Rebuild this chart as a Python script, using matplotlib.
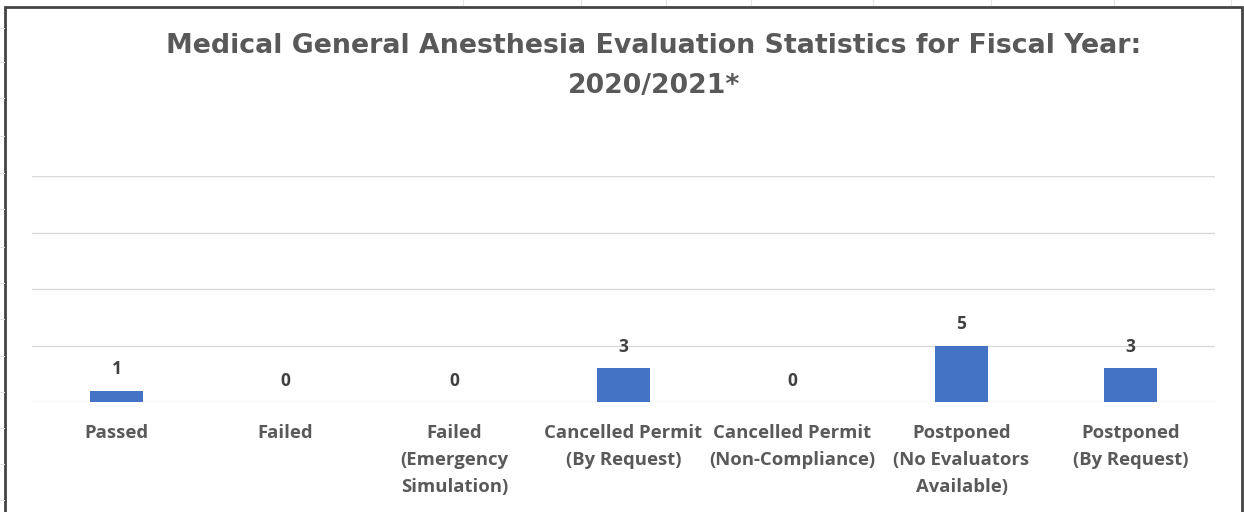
import matplotlib
matplotlib.use("Agg")
import matplotlib.pyplot as plt
from matplotlib.patches import Rectangle

categories = ["Passed", "Failed", "Failed\n(Emergency\nSimulation)", "Cancelled Permit\n(By Request)",
              "Cancelled Permit\n(Non-Compliance)", "Postponed\n(No Evaluators\nAvailable)", "Postponed\n(By Request)"]
values = [1, 0, 0, 3, 0, 5, 3]
title = "Medical General Anesthesia Evaluation Statistics for Fiscal Year:\n2020/2021*"

W, H = 1244, 512
fig = plt.figure(figsize=(W/100, H/100), dpi=100)
fig.patch.set_facecolor("white")

# faint spreadsheet marks outside chart
for yy in [28, 62, 98, 136, 173, 209, 247, 283, 319, 356, 392, 428, 464, 500]:
    fig.add_artist(plt.Line2D([0, 4/W], [1-yy/H, 1-yy/H], color="#e4e4e4", lw=0.8))
for xx in [463, 581, 666, 751, 873, 991, 1114, 1231]:
    fig.add_artist(plt.Line2D([xx/W, xx/W], [1, 1-5/H], color="#e4e4e4", lw=0.8))

# chart border
fig.add_artist(Rectangle((5/W, -0.05), (1242-5)/W, 1.05 - 7/H, transform=fig.transFigure,
                         fill=False, edgecolor="#444444", lw=2))

ax = fig.add_axes([32/W, 1-402/H, (1215-32)/W, (402-176)/H])
x = range(len(categories))
bars = ax.bar(x, values, width=0.31, color="#4472C4", zorder=3)
ax.set_ylim(0, 20)
ax.set_xlim(-0.5, len(categories)-0.5)
ax.set_yticks([0, 5, 10, 15, 20])
ax.yaxis.grid(True, color="#d9d9d9", lw=1)
ax.set_axisbelow(True)
for s in ax.spines.values():
    s.set_visible(False)
ax.tick_params(axis="y", left=False, labelleft=False)
ax.tick_params(axis="x", length=0, pad=16)
ax.set_xticks(list(x))
ax.set_xticklabels(categories, fontsize=13.3, fontweight="bold", color="#595959",
                   family="Open Sans", linespacing=1.63, va="top")

for xi, v in zip(x, values):
    ax.annotate(str(v), (xi, v), xytext=(0, 9), textcoords="offset points",
                ha="center", va="bottom", fontsize=12.5, fontweight="bold",
                color="#404040", family="Open Sans")

fig.text(654/W, 1-66/H, title, ha="center", va="center", fontsize=19.3, fontweight="bold",
         color="#595959", family="DejaVu Sans", linespacing=1.7)

fig.savefig("out.png", dpi=100)
